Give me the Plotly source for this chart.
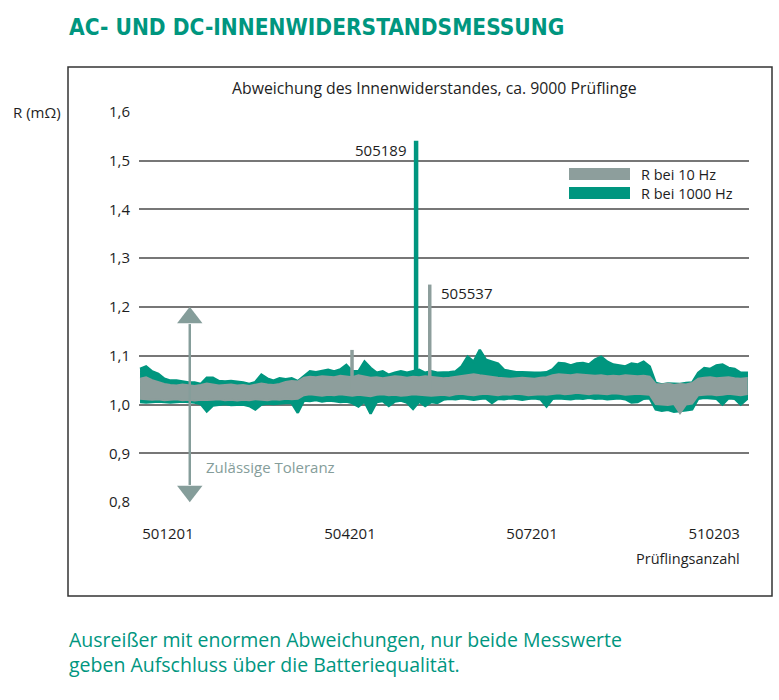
import plotly.graph_objects as go

# ---------------- data ----------------
# sample numbers (Prüfling index), one envelope point every 100 samples
sample_start = 500740
sample_step = 100

teal_upper = [1.073,1.078,1.068,1.063,1.053,1.049,1.049,1.047,1.045,1.045,
              1.042,1.055,1.055,1.048,1.047,1.048,1.047,1.045,1.042,1.046,
              1.061,1.053,1.049,1.054,1.052,1.054,1.048,1.058,1.068,1.066,
              1.068,1.071,1.068,1.072,1.081,1.068,1.068,1.088,1.075,1.065,
              1.068,1.061,1.065,1.068,1.065,1.068,1.071,1.065,1.068,1.065,
              1.065,1.066,1.068,1.078,1.098,1.088,1.112,1.092,1.088,1.084,
              1.071,1.068,1.066,1.066,1.065,1.065,1.065,1.066,1.072,1.085,
              1.084,1.080,1.084,1.085,1.082,1.092,1.098,1.088,1.082,1.080,
              1.078,1.084,1.082,1.088,1.078,1.044,1.041,1.043,1.043,1.042,
              1.044,1.045,1.065,1.075,1.073,1.080,1.082,1.075,1.073,1.065,
              1.065]
teal_lower = [1.005,1.004,1.005,1.006,1.005,1.004,1.005,1.006,1.005,1.004,
              1.001,0.986,0.998,1.000,1.001,0.999,1.000,1.000,0.997,0.990,
              1.000,1.002,1.001,1.002,1.003,1.003,0.983,
              1.008,1.007,1.009,1.006,1.008,1.007,1.005,1.006,1.003,0.996,
              1.006,0.981,1.005,1.007,0.997,1.006,1.008,1.004,0.991,1.006,
              0.997,1.005,
              1.003,1.010,1.012,1.011,1.013,1.012,1.010,1.012,1.013,1.003,
              1.012,1.011,1.013,1.012,1.010,1.012,1.013,1.011,0.996,1.012,
              1.013,1.012,1.011,1.013,1.012,1.014,1.012,1.013,1.011,1.012,
              1.013,1.011,1.004,1.005,1.012,1.013,
              0.990,0.987,0.989,0.985,0.986,0.988,0.990,
              1.012,1.014,1.013,1.012,1.000,1.013,1.012,1.000,1.011]
grey_upper = [1.053,1.056,1.050,1.046,
              1.042,1.040,1.039,1.041,1.040,1.038,1.040,1.043,1.041,1.039,
              1.040,1.041,1.039,1.040,1.038,1.041,1.043,1.041,1.040,1.042,
              1.046,1.048,1.047,
              1.055,1.057,1.056,1.058,1.057,1.056,1.059,1.058,1.056,1.060,
              1.057,1.055,1.056,1.054,1.056,1.058,1.057,1.055,1.057,1.056,
              1.058,1.057,
              1.056,1.054,1.055,1.057,1.058,1.060,1.062,1.060,1.058,1.057,
              1.055,1.054,1.053,1.054,1.055,1.054,1.053,1.055,1.056,
              1.060,1.062,1.061,1.060,1.062,1.061,1.060,1.059,1.060,1.058,
              1.059,1.058,1.060,1.059,1.058,1.059,1.057,
              1.042,1.041,1.043,1.040,1.042,1.041,1.044,
              1.053,1.055,1.056,1.054,1.055,1.056,1.054,1.053,1.054]
grey_lower = [1.012,1.011,1.010,1.011,1.009,1.010,1.011,1.009,1.010,1.008,
              1.010,1.009,1.010,1.011,1.009,1.010,1.008,1.010,1.009,1.011,
              1.010,1.009,1.011,1.010,1.012,1.011,1.012,
              1.019,1.021,1.020,1.018,1.020,1.019,1.021,1.020,1.018,1.020,
              1.019,1.017,1.020,1.021,1.019,1.020,1.018,1.019,1.021,1.020,
              1.019,1.018,
              1.019,1.020,1.018,1.021,1.022,1.020,1.019,1.021,1.022,1.020,
              1.019,1.021,1.020,1.022,1.021,1.019,1.020,1.021,1.020,1.022,
              1.023,1.021,1.022,1.024,1.022,1.021,1.023,1.022,1.021,1.023,
              1.022,1.020,1.021,1.022,1.021,1.020,
              1.001,1.000,0.999,1.001,0.982,1.000,1.002,
              1.019,1.020,1.021,1.019,1.020,1.022,1.020,1.019,1.021]

# single outliers (sample number, peak value)
teal_spike_x = [505290]
teal_spike_top = [1.541]
grey_spike_x = [504234, 505515]
grey_spike_top = [1.112, 1.246]
spike_base = 1.03

outlier_labels = ["505189", "505537"]
x_tick_values = [501201, 504201, 507201, 510203]
y_tick_values = [0.8, 0.9, 1.0, 1.1, 1.2, 1.3, 1.4, 1.5, 1.6]
tolerance_low, tolerance_high = 0.8, 1.2
tolerance_x = 501560

series_names = ["R bei 10 Hz", "R bei 1000 Hz"]

# ---------------- styling ----------------
TEAL = "#00967f"
GREY = "#8d9e9c"
ARROW = "#859d9a"
TXT = "#1e1e1e"
FONT = "Open Sans, Lato, sans-serif"

W, H = 779, 700
ML, MR, MT, MB = 139, 30, 111, 197
PW, PH = W - ML - MR, H - MT - MB


def px(x):
    return (x - ML) / PW


def py(y):
    return (H - MB - y) / PH


n = len(teal_upper)
samples = [sample_start + sample_step * i for i in range(n)]

fig = go.Figure()

# teal band (1000 Hz)
fig.add_trace(go.Scatter(
    x=samples + samples[::-1], y=teal_upper + teal_lower[::-1],
    mode="lines", fill="toself", fillcolor=TEAL,
    line=dict(color=TEAL, width=2.5), hoverinfo="skip", showlegend=False))
# teal outlier
sx, sy = [], []
for xv, top in zip(teal_spike_x, teal_spike_top):
    sx += [xv, xv, None]
    sy += [spike_base, top, None]
fig.add_trace(go.Scatter(x=sx, y=sy, mode="lines",
                         line=dict(color=TEAL, width=4.5), showlegend=False))

# grey band (10 Hz)
fig.add_trace(go.Scatter(
    x=samples + samples[::-1], y=grey_upper + grey_lower[::-1],
    mode="lines", fill="toself", fillcolor=GREY,
    line=dict(color=GREY, width=2), hoverinfo="skip", showlegend=False))
gx, gy = [], []
for xv, top in zip(grey_spike_x, grey_spike_top):
    gx += [xv, xv, None]
    gy += [spike_base, top, None]
fig.add_trace(go.Scatter(x=gx, y=gy, mode="lines",
                         line=dict(color=GREY, width=3.5), showlegend=False))

# tolerance arrow
fig.add_trace(go.Scatter(
    x=[tolerance_x, tolerance_x], y=[tolerance_low + 0.035, tolerance_high - 0.035],
    mode="lines", line=dict(color=ARROW, width=2.5), showlegend=False))
fig.add_trace(go.Scatter(
    x=[tolerance_x, tolerance_x], y=[tolerance_low + 0.022, tolerance_high - 0.022],
    mode="markers", marker=dict(symbol=["triangle-down", "triangle-up"], size=22,
                                color=ARROW, line=dict(width=0)),
    showlegend=False))

shapes = []
annotations = []

# outer frame
shapes.append(dict(type="rect", xref="paper", yref="paper",
                   x0=px(68), x1=px(772), y0=py(596), y1=py(67),
                   line=dict(color="#333333", width=1.5)))

# legend swatches
for i, (name, col) in enumerate(zip(series_names, [GREY, TEAL])):
    yc = 174 + 19 * i
    shapes.append(dict(type="rect", xref="paper", yref="paper",
                       x0=px(569), x1=px(630), y0=py(yc + 6), y1=py(yc - 6),
                       fillcolor=col, line=dict(width=0)))
    annotations.append(dict(xref="paper", yref="paper", x=px(639), y=py(yc),
                            text=name, showarrow=False, xanchor="left",
                            yanchor="middle", font=dict(size=14.5, color=TXT, family=FONT)))

# main title
annotations.append(dict(xref="paper", yref="paper", x=px(67), y=py(27),
                        text="<b>AC- UND DC-INNENWIDERSTANDSMESSUNG</b>",
                        showarrow=False, xanchor="left", yanchor="middle",
                        font=dict(size=22.5, color=TEAL,
                                  family="Liberation Sans Narrow, DejaVu Sans Condensed, sans-serif")))
# chart subtitle
annotations.append(dict(xref="paper", yref="paper", x=px(434.5), y=py(88),
                        text="Abweichung des Innenwiderstandes, ca. 9000 Prüflinge",
                        showarrow=False, xanchor="center", yanchor="middle",
                        font=dict(size=15.8, color=TXT, family=FONT)))
# axis titles
annotations.append(dict(xref="paper", yref="paper", x=px(11), y=py(112),
                        text="R (mΩ)", showarrow=False, xanchor="left", yanchor="middle",
                        font=dict(size=15, color=TXT, family=FONT)))
annotations.append(dict(xref="paper", yref="paper", x=px(742), y=py(558),
                        text="Prüflingsanzahl", showarrow=False, xanchor="right",
                        yanchor="middle", font=dict(size=14.5, color=TXT, family=FONT)))
# outlier labels
annotations.append(dict(x=teal_spike_x[0], y=teal_spike_top[0], xref="x", yref="y",
                        text=outlier_labels[0], showarrow=False, xanchor="right",
                        yanchor="middle", xshift=-8, yshift=-9,
                        font=dict(size=15, color=TXT, family=FONT)))
annotations.append(dict(x=grey_spike_x[1], y=grey_spike_top[1], xref="x", yref="y",
                        text=outlier_labels[1], showarrow=False, xanchor="left",
                        yanchor="middle", xshift=9, yshift=-8,
                        font=dict(size=15, color=TXT, family=FONT)))
# tolerance label
annotations.append(dict(xref="paper", yref="paper", x=px(204), y=py(467),
                        text="Zulässige Toleranz", showarrow=False, xanchor="left",
                        yanchor="middle", font=dict(size=15, color=ARROW, family=FONT)))
# caption
annotations.append(dict(xref="paper", yref="paper", x=px(67), y=py(652),
                        text="Ausreißer mit enormen Abweichungen, nur beide Messwerte<br>"
                             "geben Aufschluss über die Batteriequalität.",
                        showarrow=False, xanchor="left", yanchor="middle", align="left",
                        font=dict(size=19.5, color=TEAL, family=FONT)))

fig.update_layout(
    width=W, height=H,
    margin=dict(l=ML, r=MR, t=MT, b=MB),
    paper_bgcolor="white", plot_bgcolor="white",
    separators=",.",
    showlegend=False,
    shapes=shapes, annotations=annotations,
    font=dict(family=FONT, color=TXT),
)
fig.update_xaxes(range=[500723, 510777], tickvals=x_tick_values,
                 tickformat="d", showgrid=False, zeroline=False, showline=False,
                 ticks="", ticklabelstandoff=20,
                 tickfont=dict(size=15, color=TXT, family=FONT))
fig.update_yaxes(range=[0.798, 1.602], tickvals=y_tick_values, tickformat=".1f",
                 showgrid=True, gridcolor="#777777", gridwidth=2, zeroline=False,
                 showline=False, ticks="", ticklabelstandoff=8,
                 tickfont=dict(size=15, color=TXT, family=FONT))

fig.write_html("out.html")
